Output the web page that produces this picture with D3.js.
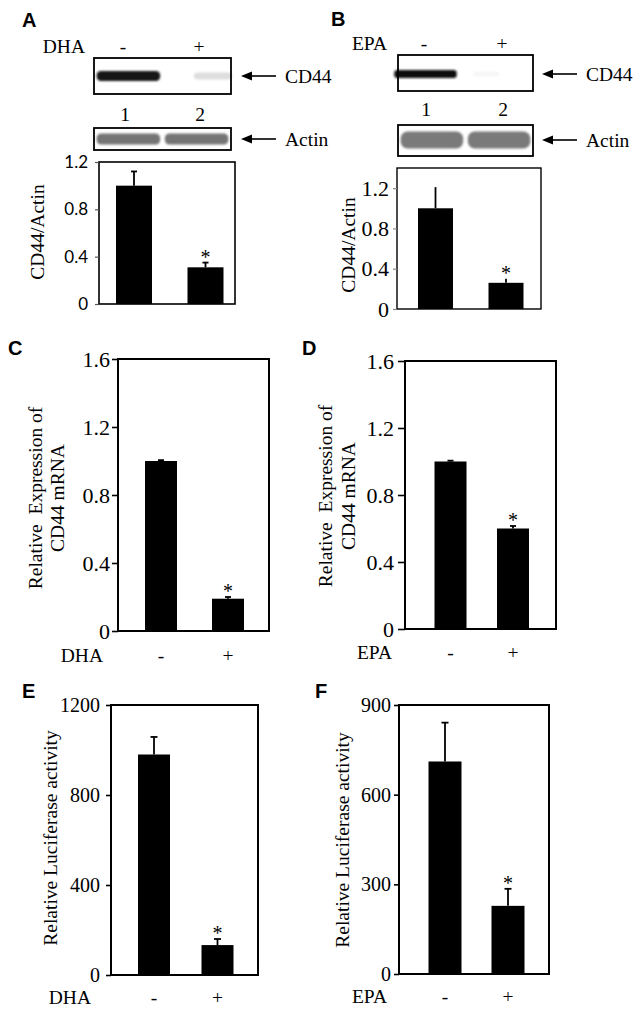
<!DOCTYPE html>
<html><head><meta charset="utf-8">
<script src="https://cdn.jsdelivr.net/npm/d3@7"></script>
<style>body{margin:0;background:#fff}svg{display:block}</style>
</head><body>
<svg id="fig" width="641" height="1014"></svg>
<script>
// ---------- DATA ----------
const lanes = ["1", "2"];
const treat = ["-", "+"];
// western blot band intensities (0 = none, 1 = black)
const blotA_CD44  = [0.92, 0.22];
const blotA_Actin = [0.62, 0.62];
const blotB_CD44  = [0.95, 0.08];
const blotB_Actin = [0.60, 0.60];

// bar charts: mean values and (upward) error
const valA = [1.00, 0.31], errA = [0.12, 0.04];
const valB = [1.00, 0.26], errB = [0.21, 0.04];
const valC = [1.00, 0.19], errC = [0.005, 0.01];
const valD = [1.00, 0.60], errD = [0.005, 0.015];
const valE = [980, 133],   errE = [78, 27];
const valF = [711, 228],   errF = [130, 57];

const ticksAB = [0, 0.4, 0.8, 1.2];
const ticksCD = [0, 0.4, 0.8, 1.2, 1.6];
const ticksE  = [0, 400, 800, 1200];
const ticksF  = [0, 300, 600, 900];

const treatDHA = "DHA", treatEPA = "EPA";
// ---------------------------

const svg = d3.select("#fig");
const SERIF = "'Liberation Serif','Times New Roman',serif";
const SANS = "'Liberation Sans',Arial,sans-serif";

const defs = svg.append("defs");
defs.append("filter").attr("id", "blur").attr("x", "-20%").attr("y", "-60%")
  .attr("width", "140%").attr("height", "220%")
  .append("feGaussianBlur").attr("stdDeviation", 1.2);

// panel letters
const letters = [
  {t: "A", x: 22, y: 27}, {t: "B", x: 331, y: 26},
  {t: "C", x: 8, y: 355}, {t: "D", x: 302, y: 355},
  {t: "E", x: 22, y: 698}, {t: "F", x: 315, y: 698}
];
svg.selectAll("text.letter").data(letters).join("text")
  .attr("class", "letter").attr("x", d => d.x).attr("y", d => d.y)
  .attr("font-family", SANS).attr("font-weight", "bold").attr("font-size", 20)
  .text(d => d.t);

// ---------- BLOTS ----------
function arrow(x1, x2, y, label) {
  svg.append("line").attr("x1", x1 + 9).attr("x2", x2).attr("y1", y).attr("y2", y)
    .attr("stroke", "#000").attr("stroke-width", 1.6);
  svg.append("path").attr("d", `M${x1},${y} L${x1 + 11},${y - 4.5} L${x1 + 11},${y + 4.5} Z`).attr("fill", "#000");
  svg.append("text").attr("x", x2 + 9).attr("y", y + 6.5)
    .attr("font-family", SERIF).attr("font-size", 19.5).text(label);
}

function blot(cfg) {
  const x = d3.scaleBand().domain(lanes).range([cfg.x0 + 1, cfg.x1 - 1]).paddingInner(0.04).paddingOuter(0.01);
  const wf = d => Math.min(0.97, 0.3 + 1.3 * d);
  const g = svg.append("g");
  g.selectAll("rect.band").data(cfg.vals).join("rect")
    .attr("class", "band")
    .attr("x", (d, i) => x(lanes[i]) + x.bandwidth() * (0.5 + cfg.shift[i]) - x.bandwidth() * wf(d) / 2)
    .attr("width", d => x.bandwidth() * wf(d))
    .attr("y", d => cfg.by - cfg.bh * Math.min(1, 0.5 + d) / 2)
    .attr("height", d => cfg.bh * Math.min(1, 0.5 + d))
    .attr("rx", cfg.bh / 2.4)
    .attr("fill", d => d3.interpolateGreys(d))
    .attr("filter", "url(#blur)");
  g.append("rect").attr("x", cfg.x0).attr("y", cfg.y0)
    .attr("width", cfg.x1 - cfg.x0).attr("height", cfg.y1 - cfg.y0)
    .attr("fill", "none").attr("stroke", "#000").attr("stroke-width", 1.8);
  arrow(cfg.ax0, cfg.ax1, cfg.by, cfg.label);
}

// A blots
blot({x0: 94, x1: 231, y0: 58, y1: 94, by: 76, bh: 10, vals: blotA_CD44, shift: [0, 0.25], ax0: 241, ax1: 276, label: "CD44"});
blot({x0: 94, x1: 231, y0: 128, y1: 150, by: 139, bh: 11, vals: blotA_Actin, shift: [0, 0], ax0: 241, ax1: 276, label: "Actin"});
// B blots
blot({x0: 398, x1: 533, y0: 55, y1: 91, by: 74, bh: 8, vals: blotB_CD44, shift: [-0.1, -0.2], ax0: 542, ax1: 577, label: "CD44"});
blot({x0: 398, x1: 533, y0: 125, y1: 156, by: 140, bh: 17, vals: blotB_Actin, shift: [0, 0], ax0: 542, ax1: 577, label: "Actin"});

// top labels (treatment and lane numbers)
function topLabels(name, nameEnd, r, yT, yN) {
  const p = d3.scalePoint().domain(treat).range(r);
  svg.append("text").attr("x", nameEnd).attr("y", yT).attr("text-anchor", "end")
    .attr("font-family", SERIF).attr("font-size", 19.5).text(name);
  svg.selectAll(null).data(treat).join("text")
    .attr("x", d => p(d)).attr("y", yT).attr("text-anchor", "middle")
    .attr("font-family", SERIF).attr("font-size", 19.5).text(d => d);
  const q = d3.scalePoint().domain(lanes).range([r[0] + 2, r[1] + 1]);
  svg.selectAll(null).data(lanes).join("text")
    .attr("x", d => q(d)).attr("y", yN).attr("text-anchor", "middle")
    .attr("font-family", SERIF).attr("font-size", 19.5).text(d => d);
}
topLabels(treatDHA, 85, [123, 199], 53, 121);
topLabels(treatEPA, 387, [424, 502], 50, 116);

// ---------- BAR CHARTS ----------
function chart(c) {
  const y = d3.scaleLinear().domain(c.domain).range([c.bottom, c.top]);
  const x = d3.scalePoint().domain(treat).range(c.centers);
  const g = svg.append("g");
  // bars
  g.selectAll("rect.bar").data(c.vals).join("rect").attr("class", "bar")
    .attr("x", (d, i) => x(treat[i]) - c.bw / 2).attr("width", c.bw)
    .attr("y", d => y(d)).attr("height", d => y(0) - y(d)).attr("fill", "#000");
  // error bars
  g.selectAll("line.err").data(c.vals).join("line").attr("class", "err")
    .attr("x1", (d, i) => x(treat[i])).attr("x2", (d, i) => x(treat[i]))
    .attr("y1", d => y(d)).attr("y2", (d, i) => y(d + c.errs[i]))
    .attr("stroke", "#000").attr("stroke-width", 1.8);
  g.selectAll("line.cap").data(c.vals).join("line").attr("class", "cap")
    .attr("x1", (d, i) => x(treat[i]) - c.cap).attr("x2", (d, i) => x(treat[i]) + c.cap)
    .attr("y1", (d, i) => y(d + c.errs[i])).attr("y2", (d, i) => y(d + c.errs[i]))
    .attr("stroke", "#000").attr("stroke-width", 1.8);
  // asterisk on treated bar
  g.append("text").attr("x", x(treat[1])).attr("y", y(c.vals[1] + c.errs[1]) + 1)
    .attr("text-anchor", "middle").attr("font-family", SERIF).attr("font-size", 20)
    .text("*");
  // box
  g.append("rect").attr("x", c.left).attr("y", c.top)
    .attr("width", c.right - c.left).attr("height", c.bottom - c.top)
    .attr("fill", "none").attr("stroke", "#000").attr("stroke-width", c.sw);
  // axis
  const ax = g.append("g").attr("transform", `translate(${c.left},0)`)
    .call(d3.axisLeft(y).tickValues(c.ticks).tickSize(c.ts).tickPadding(c.tp).tickFormat(c.fmt));
  ax.attr("font-family", c.font).attr("font-size", c.fs);
  ax.select(".domain").remove();
  ax.selectAll(".tick line").attr("stroke", c.tickColor).attr("stroke-width", c.tsw);
  ax.selectAll(".tick text").attr("font-family", c.font).attr("font-size", c.fs).attr("fill", "#000");
  // y label
  const yl = g.append("g");
  c.ylab.forEach((t, i) => {
    yl.append("text").attr("transform", `translate(${c.ylx[i]},${c.yly}) rotate(-90)`)
      .attr("text-anchor", "middle").attr("dy", "0.35em")
      .attr("font-family", SERIF).attr("font-size", 19.5).attr("xml:space", "preserve").text(t);
  });
  // x labels
  if (c.xname) {
    g.append("text").attr("x", c.xnameEnd).attr("y", c.xly).attr("text-anchor", "end")
      .attr("font-family", SERIF).attr("font-size", 19.5).text(c.xname);
    g.selectAll("text.xl").data(treat).join("text").attr("class", "xl")
      .attr("x", d => x(d)).attr("y", c.xly).attr("text-anchor", "middle")
      .attr("font-family", SERIF).attr("font-size", 19.5).text(d => d);
  }
}

const f1 = d => d === 0 ? "0" : d3.format(".1f")(d);
const f0 = d3.format("d");

chart({vals: valA, errs: errA, ticks: ticksAB, domain: [0, 1.2], left: 99, right: 235, top: 162, bottom: 304,
  centers: [134, 205.5], bw: 36, cap: 3, sw: 1.6, ts: 4, tp: 7, tsw: 1.2, tickColor: "#555", fmt: f1,
  font: "Lato, 'Open Sans', sans-serif", fs: 17, ylab: ["CD44/Actin"], ylx: [37], yly: 232});
chart({vals: valB, errs: errB, ticks: ticksAB, domain: [0, 1.4], left: 397, right: 541, top: 168, bottom: 309,
  centers: [435.5, 506], bw: 35, cap: 0, sw: 1.4, ts: 4, tp: 4, tsw: 1.2, tickColor: "#888", fmt: f1,
  font: SERIF, fs: 22, ylab: ["CD44/Actin"], ylx: [348], yly: 245});
chart({vals: valC, errs: errC, ticks: ticksCD, domain: [0, 1.6], left: 118, right: 269, top: 359, bottom: 631,
  centers: [161, 228], bw: 32, cap: 3, sw: 2, ts: 6, tp: 2, tsw: 1.6, tickColor: "#000", fmt: f1,
  font: SERIF, fs: 22, ylab: ["Relative  Expression of", "CD44 mRNA"], ylx: [35, 57], yly: 498,
  xname: treatDHA, xnameEnd: 103, xly: 662});
chart({vals: valD, errs: errD, ticks: ticksCD, domain: [0, 1.6], left: 405, right: 556, top: 361, bottom: 629,
  centers: [450.5, 513], bw: 32, cap: 3, sw: 2, ts: 7, tp: 4, tsw: 1.6, tickColor: "#000", fmt: f1,
  font: SERIF, fs: 22, ylab: ["Relative  Expression of", "CD44 mRNA"], ylx: [325, 348], yly: 496,
  xname: treatEPA, xnameEnd: 392, xly: 659});
chart({vals: valE, errs: errE, ticks: ticksE, domain: [0, 1200], left: 111, right: 258, top: 705, bottom: 975,
  centers: [154, 217.5], bw: 32, cap: 3.5, sw: 2, ts: 5, tp: 6, tsw: 1.6, tickColor: "#000", fmt: f0,
  font: SERIF, fs: 20, ylab: ["Relative Luciferase activity"], ylx: [50], yly: 838,
  xname: treatDHA, xnameEnd: 91, xly: 1004});
chart({vals: valF, errs: errF, ticks: ticksF, domain: [0, 900], left: 399, right: 549, top: 705, bottom: 974,
  centers: [445, 508], bw: 33, cap: 3.5, sw: 2, ts: 5, tp: 3, tsw: 1.6, tickColor: "#000", fmt: f0,
  font: SERIF, fs: 20, ylab: ["Relative Luciferase activity"], ylx: [342], yly: 840,
  xname: treatEPA, xnameEnd: 387, xly: 1003});
</script>
</body></html>
